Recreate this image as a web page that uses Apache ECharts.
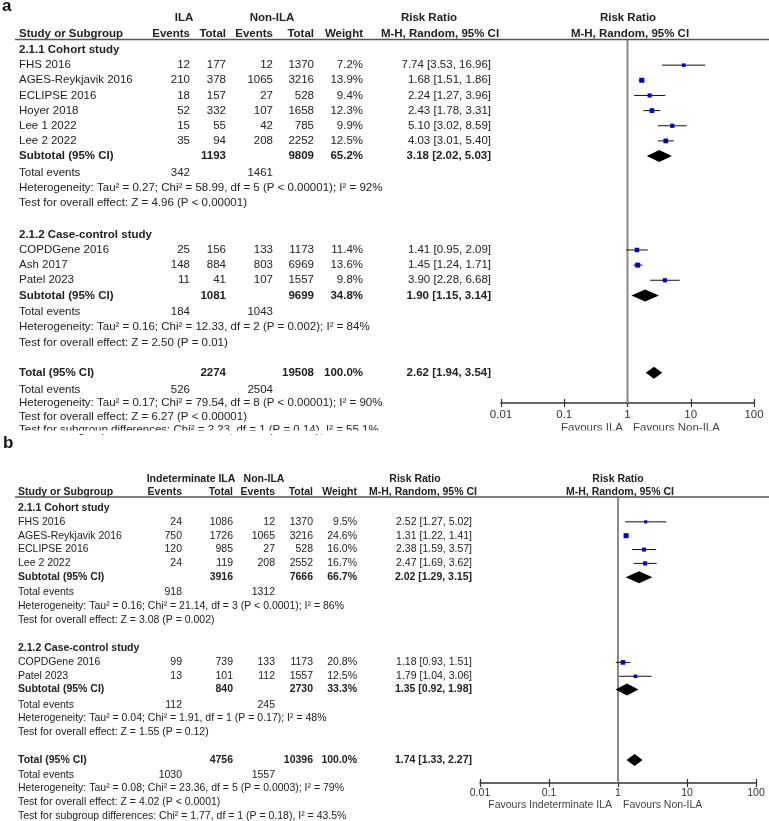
<!DOCTYPE html>
<html><head><meta charset="utf-8">
<script src="https://cdn.jsdelivr.net/npm/echarts@6/dist/echarts.min.js"></script>
<style>html,body{margin:0;padding:0;background:#fff}#c{width:769px;height:821px}</style>
</head><body><div id="c"></div>
<script>
const FONT = '"Liberation Sans", Arial, Helvetica, sans-serif';

// ---------------- shared texts ----------------
const groupTitles = ['2.1.1 Cohort study', '2.1.2 Case-control study'];
const colHeads = ['Study or Subgroup', 'Events', 'Total', 'Events', 'Total', 'Weight', 'M-H, Random, 95% CI', 'M-H, Random, 95% CI'];
const tickLabels = ['0.01', '0.1', '1', '10', '100'];

// ---------------- Panel a data ----------------
const aHeader1 = ['ILA', 'Non-ILA', 'Risk Ratio', 'Risk Ratio'];
const aStudy = ['FHS 2016', 'AGES-Reykjavik 2016', 'ECLIPSE 2016', 'Hoyer 2018', 'Lee 1 2022', 'Lee 2 2022', 'COPDGene 2016', 'Ash 2017', 'Patel 2023'];
const aGroup = [0, 0, 0, 0, 0, 0, 1, 1, 1];
const aEvents = [12, 210, 18, 52, 15, 35, 25, 148, 11];
const aTotal = [177, 378, 157, 332, 55, 94, 156, 884, 41];
const aEventsNon = [12, 1065, 27, 107, 42, 208, 133, 803, 107];
const aTotalNon = [1370, 3216, 528, 1658, 785, 2252, 1173, 6969, 1557];
const aWeight = [7.2, 13.9, 9.4, 12.3, 9.9, 12.5, 11.4, 13.6, 9.8];
const aRR = [7.74, 1.68, 2.24, 2.43, 5.10, 4.03, 1.41, 1.45, 3.90];
const aLow = [3.53, 1.51, 1.27, 1.78, 3.02, 3.01, 0.95, 1.24, 2.28];
const aHigh = [16.96, 1.86, 3.96, 3.31, 8.59, 5.40, 2.09, 1.71, 6.68];
const aSubTotal = [1193, 1081];
const aSubTotalNon = [9809, 9699];
const aSubWeight = [65.2, 34.8];
const aSubRR = [3.18, 1.90];
const aSubLow = [2.02, 1.15];
const aSubHigh = [5.03, 3.14];
const aSubEvents = [342, 184];
const aSubEventsNon = [1461, 1043];
const aSubHet = ['Heterogeneity: Tau² = 0.27; Chi² = 58.99, df = 5 (P < 0.00001); I² = 92%',
                 'Heterogeneity: Tau² = 0.16; Chi² = 12.33, df = 2 (P = 0.002); I² = 84%'];
const aSubTest = ['Test for overall effect: Z = 4.96 (P < 0.00001)', 'Test for overall effect: Z = 2.50 (P = 0.01)'];
const aOverallN = [2274, 19508];
const aOverallWeight = [100.0];
const aOverallRR = [2.62, 1.94, 3.54];
const aOverallEvents = [526, 2504];
const aFooter = ['Heterogeneity: Tau² = 0.17; Chi² = 79.54, df = 8 (P < 0.00001); I² = 90%',
                 'Test for overall effect: Z = 6.27 (P < 0.00001)',
                 'Test for subgroup differences: Chi² = 2.23, df = 1 (P = 0.14), I² = 55.1%'];
const aFavours = ['Favours ILA', 'Favours Non-ILA'];

// ---------------- Panel b data ----------------
const bHeader1 = ['Indeterminate ILA', 'Non-ILA', 'Risk Ratio', 'Risk Ratio'];
const bStudy = ['FHS 2016', 'AGES-Reykjavik 2016', 'ECLIPSE 2016', 'Lee 2 2022', 'COPDGene 2016', 'Patel 2023'];
const bGroup = [0, 0, 0, 0, 1, 1];
const bEvents = [24, 750, 120, 24, 99, 13];
const bTotal = [1086, 1726, 985, 119, 739, 101];
const bEventsNon = [12, 1065, 27, 208, 133, 112];
const bTotalNon = [1370, 3216, 528, 2552, 1173, 1557];
const bWeight = [9.5, 24.6, 16.0, 16.7, 20.8, 12.5];
const bRR = [2.52, 1.31, 2.38, 2.47, 1.18, 1.79];
const bLow = [1.27, 1.22, 1.59, 1.69, 0.93, 1.04];
const bHigh = [5.02, 1.41, 3.57, 3.62, 1.51, 3.06];
const bSubTotal = [3916, 840];
const bSubTotalNon = [7666, 2730];
const bSubWeight = [66.7, 33.3];
const bSubRR = [2.02, 1.35];
const bSubLow = [1.29, 0.92];
const bSubHigh = [3.15, 1.98];
const bSubEvents = [918, 112];
const bSubEventsNon = [1312, 245];
const bSubHet = ['Heterogeneity: Tau² = 0.16; Chi² = 21.14, df = 3 (P < 0.0001); I² = 86%',
                 'Heterogeneity: Tau² = 0.04; Chi² = 1.91, df = 1 (P = 0.17); I² = 48%'];
const bSubTest = ['Test for overall effect: Z = 3.08 (P = 0.002)', 'Test for overall effect: Z = 1.55 (P = 0.12)'];
const bOverallN = [4756, 10396];
const bOverallWeight = [100.0];
const bOverallRR = [1.74, 1.33, 2.27];
const bOverallEvents = [1030, 1557];
const bFooter = ['Heterogeneity: Tau² = 0.08; Chi² = 23.36, df = 5 (P = 0.0003); I² = 79%',
                 'Test for overall effect: Z = 4.02 (P < 0.0001)',
                 'Test for subgroup differences: Chi² = 1.77, df = 1 (P = 0.18), I² = 43.5%'];
const bFavours = ['Favours Indeterminate ILA', 'Favours Non-ILA'];

// ---------------- assemble panels ----------------
const PA = {header1: aHeader1, study: aStudy, group: aGroup, ev: aEvents, tot: aTotal, evN: aEventsNon, totN: aTotalNon,
  w: aWeight, rr: aRR, lo: aLow, hi: aHigh, subTot: aSubTotal, subTotN: aSubTotalNon, subW: aSubWeight, subRR: aSubRR,
  subLo: aSubLow, subHi: aSubHigh, subEv: aSubEvents, subEvN: aSubEventsNon, subHet: aSubHet, subTest: aSubTest,
  allN: aOverallN, allW: aOverallWeight, allRR: aOverallRR, allEv: aOverallEvents, footer: aFooter, favours: aFavours};
const PB = {header1: bHeader1, study: bStudy, group: bGroup, ev: bEvents, tot: bTotal, evN: bEventsNon, totN: bTotalNon,
  w: bWeight, rr: bRR, lo: bLow, hi: bHigh, subTot: bSubTotal, subTotN: bSubTotalNon, subW: bSubWeight, subRR: bSubRR,
  subLo: bSubLow, subHi: bSubHigh, subEv: bSubEvents, subEvN: bSubEventsNon, subHet: bSubHet, subTest: bSubTest,
  allN: bOverallN, allW: bOverallWeight, allRR: bOverallRR, allEv: bOverallEvents, footer: bFooter, favours: bFavours};

// layout (row positions in line units)
const LA = {y0: 50, lh: 15.15, hline: 39.5, axisY: 403, fLeft: 501, fRight: 754, fs: 11.5, color: '#222',
  col: {study: 19, ev: 190, tot: 226, evN: 273, totN: 314, w: 363, rr: 491}, h1: [184, 272, 429, 628], mh: [440, 630],
  fav: [623, 633], hlineX: 15, sqMax: 5, dia: 12, labMargin: 6,
  pos: [-2.11, -1.06, 0, 1, 2, 3, 4, 5, 6, 7, 8.1, 9.1, 10.1, 12.2, 13.2, 14.2, 15.2, 16.2, 17.3, 18.3, 19.3, 21.3, 22.4, 23.3, 24.2, 25.05, 24.95]};
const LB = {y0: 508, lh: 13.85, hline: 497, axisY: 783, fLeft: 480, fRight: 756, fs: 10.5, color: '#222',
  col: {study: 18, ev: 182, tot: 233, evN: 275, totN: 313, w: 357, rr: 472}, h1: [191, 264, 415, 618], mh: [423, 620],
  fav: [612, 623], hlineX: 15, sqMax: 5, dia: 12, labMargin: 5,
  pos: [-2.09, -1.16, 0, 1, 2, 3, 4, 5, 6.1, 7.1, 8.1, 10.1, 11.15, 12.15, 13.1, 14.2, 15.2, 16.2, 18.2, 19.25, 20.25, 21.25, 22.25, 21.44]};

function buildRows(P, L) {
  const rows = []; let k = 0;
  const push = o => { o.r = L.pos[k++]; rows.push(o); };
  push({kind: 'hdr1'}); push({kind: 'hdr2'});
  groupTitles.forEach((t, g) => {
    push({kind: 'group', g});
    P.study.forEach((s, i) => { if (P.group[i] === g) push({kind: 'study', i}); });
    push({kind: 'sub', g}); push({kind: 'events', g});
    push({kind: 'note', text: P.subHet[g]}); push({kind: 'note', text: P.subTest[g]});
  });
  push({kind: 'total'}); push({kind: 'tevents'});
  P.footer.forEach(t => push({kind: 'note', text: t}));
  push({kind: 'favours'});
  return rows;
}

const ci = (a, b, c) => a.toFixed(2) + ' [' + b.toFixed(2) + ', ' + c.toFixed(2) + ']';

function tableRenderer(P, L, rows) {
  const f = b => (b ? 'bold ' : '') + L.fs + 'px ' + FONT;
  return function (params, api) {
    const row = rows[params.dataIndex];
    const y = api.coord([0, row.r])[1];
    const kids = [];
    const T = (x, s, align, bold, color) => kids.push({type: 'text', x: x, y: y,
      style: {text: String(s), align: align, textAlign: align, verticalAlign: 'middle', textVerticalAlign: 'middle', font: f(bold), fill: color || L.color}});
    const C = L.col;
    switch (row.kind) {
      case 'hdr1':
        T(L.h1[0], P.header1[0], 'center', true); T(L.h1[1], P.header1[1], 'center', true);
        T(L.h1[2], P.header1[2], 'center', true); T(L.h1[3], P.header1[3], 'center', true);
        break;
      case 'hdr2': {
        T(C.study, colHeads[0], 'left', true); T(C.ev, colHeads[1], 'right', true); T(C.tot, colHeads[2], 'right', true);
        T(C.evN, colHeads[3], 'right', true); T(C.totN, colHeads[4], 'right', true); T(C.w, colHeads[5], 'right', true);
        T(L.mh[0], colHeads[6], 'center', true); T(L.mh[1], colHeads[7], 'center', true);
        const yl = api.coord([0, (L.hline - L.y0) / L.lh])[1];
        kids.push({type: 'line', shape: {x1: L.hlineX, y1: yl, x2: 769, y2: yl}, style: {stroke: '#555', lineWidth: 1.5}});
        break; }
      case 'group': T(C.study, groupTitles[row.g], 'left', true); break;
      case 'study': {
        const i = row.i;
        T(C.study, P.study[i], 'left'); T(C.ev, P.ev[i], 'right'); T(C.tot, P.tot[i], 'right');
        T(C.evN, P.evN[i], 'right'); T(C.totN, P.totN[i], 'right'); T(C.w, P.w[i].toFixed(1) + '%', 'right');
        T(C.rr, ci(P.rr[i], P.lo[i], P.hi[i]), 'right');
        break; }
      case 'sub': {
        const g = row.g;
        T(C.study, 'Subtotal (95% CI)', 'left', true); T(C.tot, P.subTot[g], 'right', true);
        T(C.totN, P.subTotN[g], 'right', true); T(C.w, P.subW[g].toFixed(1) + '%', 'right', true);
        T(C.rr, ci(P.subRR[g], P.subLo[g], P.subHi[g]), 'right', true);
        break; }
      case 'events':
        T(C.study, 'Total events', 'left'); T(C.ev, P.subEv[row.g], 'right'); T(C.evN, P.subEvN[row.g], 'right');
        break;
      case 'note': T(C.study, row.text, 'left'); break;
      case 'total':
        T(C.study, 'Total (95% CI)', 'left', true); T(C.tot, P.allN[0], 'right', true);
        T(C.totN, P.allN[1], 'right', true); T(C.w, P.allW[0].toFixed(1) + '%', 'right', true);
        T(C.rr, ci(P.allRR[0], P.allRR[1], P.allRR[2]), 'right', true);
        break;
      case 'tevents':
        T(C.study, 'Total events', 'left'); T(C.ev, P.allEv[0], 'right'); T(C.evN, P.allEv[1], 'right');
        break;
      case 'favours':
        T(L.fav[0], P.favours[0], 'right', false, '#444'); T(L.fav[1], P.favours[1], 'left', false, '#444');
        break;
    }
    return {type: 'group', children: kids};
  };
}

function studyRenderer(L, maxW) {
  return function (params, api) {
    const r = api.value(1);
    const p = api.coord([api.value(0), r]);
    const a = api.coord([api.value(2), r]);
    const b = api.coord([api.value(3), r]);
    const s = L.sqMax * Math.sqrt(api.value(4) / maxW);
    return {type: 'group', children: [
      {type: 'line', shape: {x1: a[0], y1: p[1], x2: b[0], y2: p[1]}, style: {stroke: '#111', lineWidth: 1}},
      {type: 'rect', shape: {x: p[0] - s / 2, y: p[1] - s / 2, width: s, height: s}, style: {fill: '#0000cc'}}
    ]};
  };
}
function diamondRenderer(L) {
  return function (params, api) {
    const r = api.value(1);
    const p = api.coord([api.value(0), r]);
    const a = api.coord([api.value(2), r]);
    const b = api.coord([api.value(3), r]);
    const h = L.dia / 2;
    return {type: 'polygon', shape: {points: [[a[0], p[1]], [p[0], p[1] - h], [b[0], p[1]], [p[0], p[1] + h]]}, style: {fill: '#000'}};
  };
}

const grids = [], xAxes = [], yAxes = [], series = [];
function addPanel(P, L) {
  const rows = buildRows(P, L);
  const g0 = grids.length;
  const top = L.hline, height = L.axisY - L.hline;
  grids.push({left: 0, width: 769, top: top, height: height, outerBoundsMode: 'none', containLabel: false});
  grids.push({left: L.fLeft, width: L.fRight - L.fLeft, top: top, height: height, outerBoundsMode: 'none', containLabel: false});
  const rMin = (L.hline - L.y0) / L.lh, rMax = (L.axisY - L.y0) / L.lh;
  const xi = xAxes.length, yi = yAxes.length;
  xAxes.push({gridIndex: g0, type: 'value', min: 0, max: 769, show: false});
  xAxes.push({gridIndex: g0 + 1, type: 'log', logBase: 10, min: 0.01, max: 100, position: 'bottom', offset: 0,
    axisLine: {show: true, onZero: false, lineStyle: {color: '#333', width: 1.5}},
    axisTick: {show: true, inside: false, length: 4, lineStyle: {color: '#333', width: 1.2}},
    axisLabel: {show: true, margin: L.labMargin, fontSize: L.fs, fontFamily: FONT, color: '#333',
      formatter: v => tickLabels[Math.round(Math.log10(v)) + 2]},
    splitLine: {show: false}, minorTick: {show: false}});
  // second copy of the axis, moved down onto the same line, giving the upward half of each tick
  xAxes.push({gridIndex: g0 + 1, type: 'log', logBase: 10, min: 0.01, max: 100, position: 'top', offset: -height,
    axisLine: {show: false, onZero: false}, axisTick: {show: true, inside: false, length: 4, lineStyle: {color: '#333', width: 1.2}},
    axisLabel: {show: false}, splitLine: {show: false}});
  yAxes.push({gridIndex: g0, type: 'value', inverse: true, min: rMin, max: rMax, show: false});
  yAxes.push({gridIndex: g0 + 1, type: 'value', inverse: true, min: rMin, max: rMax, show: false});

  series.push({type: 'custom', xAxisIndex: xi, yAxisIndex: yi, renderItem: tableRenderer(P, L, rows),
    data: rows.map(r => [0, r.r]), encode: {x: 0, y: 1}, silent: true, clip: false});
  series.push({type: 'line', xAxisIndex: xi + 1, yAxisIndex: yi + 1, data: [[1, rMin], [1, rMax]], symbol: 'none',
    lineStyle: {color: '#8a8a8a', width: 2}, silent: true, z: 1});
  const studyData = rows.filter(r => r.kind === 'study').map(r => [P.rr[r.i], r.r, P.lo[r.i], P.hi[r.i], P.w[r.i]]);
  series.push({type: 'custom', xAxisIndex: xi + 1, yAxisIndex: yi + 1, renderItem: studyRenderer(L, Math.max.apply(null, P.w)),
    data: studyData, encode: {x: 0, y: 1}, silent: true, clip: false, z: 3});
  const diaData = rows.filter(r => r.kind === 'sub').map(r => [P.subRR[r.g], r.r, P.subLo[r.g], P.subHi[r.g]])
    .concat(rows.filter(r => r.kind === 'total').map(r => [P.allRR[0], r.r, P.allRR[1], P.allRR[2]]));
  series.push({type: 'custom', xAxisIndex: xi + 1, yAxisIndex: yi + 1, renderItem: diamondRenderer(L),
    data: diaData, encode: {x: 0, y: 1}, silent: true, clip: false, z: 3});
}
addPanel(PA, LA);
addPanel(PB, LB);

const chart = echarts.init(document.getElementById('c'), null, {renderer: 'canvas'});
chart.setOption({
  animation: false,
  backgroundColor: '#fff',
  grid: grids, xAxis: xAxes, yAxis: yAxes, series: series,
  graphic: [
    {type: 'text', x: 2, y: 6, z: 10, style: {text: 'a', font: 'bold 17px ' + FONT, fill: '#111', verticalAlign: 'middle', textVerticalAlign: 'middle'}},
    {type: 'text', x: 3, y: 443, z: 10, style: {text: 'b', font: 'bold 17px ' + FONT, fill: '#111', verticalAlign: 'middle', textVerticalAlign: 'middle'}},
    {type: 'rect', shape: {x: 0, y: 430.5, width: 769, height: 3.5}, z: 9, style: {fill: '#fff'}}
  ]
});
</script>
</body></html>
